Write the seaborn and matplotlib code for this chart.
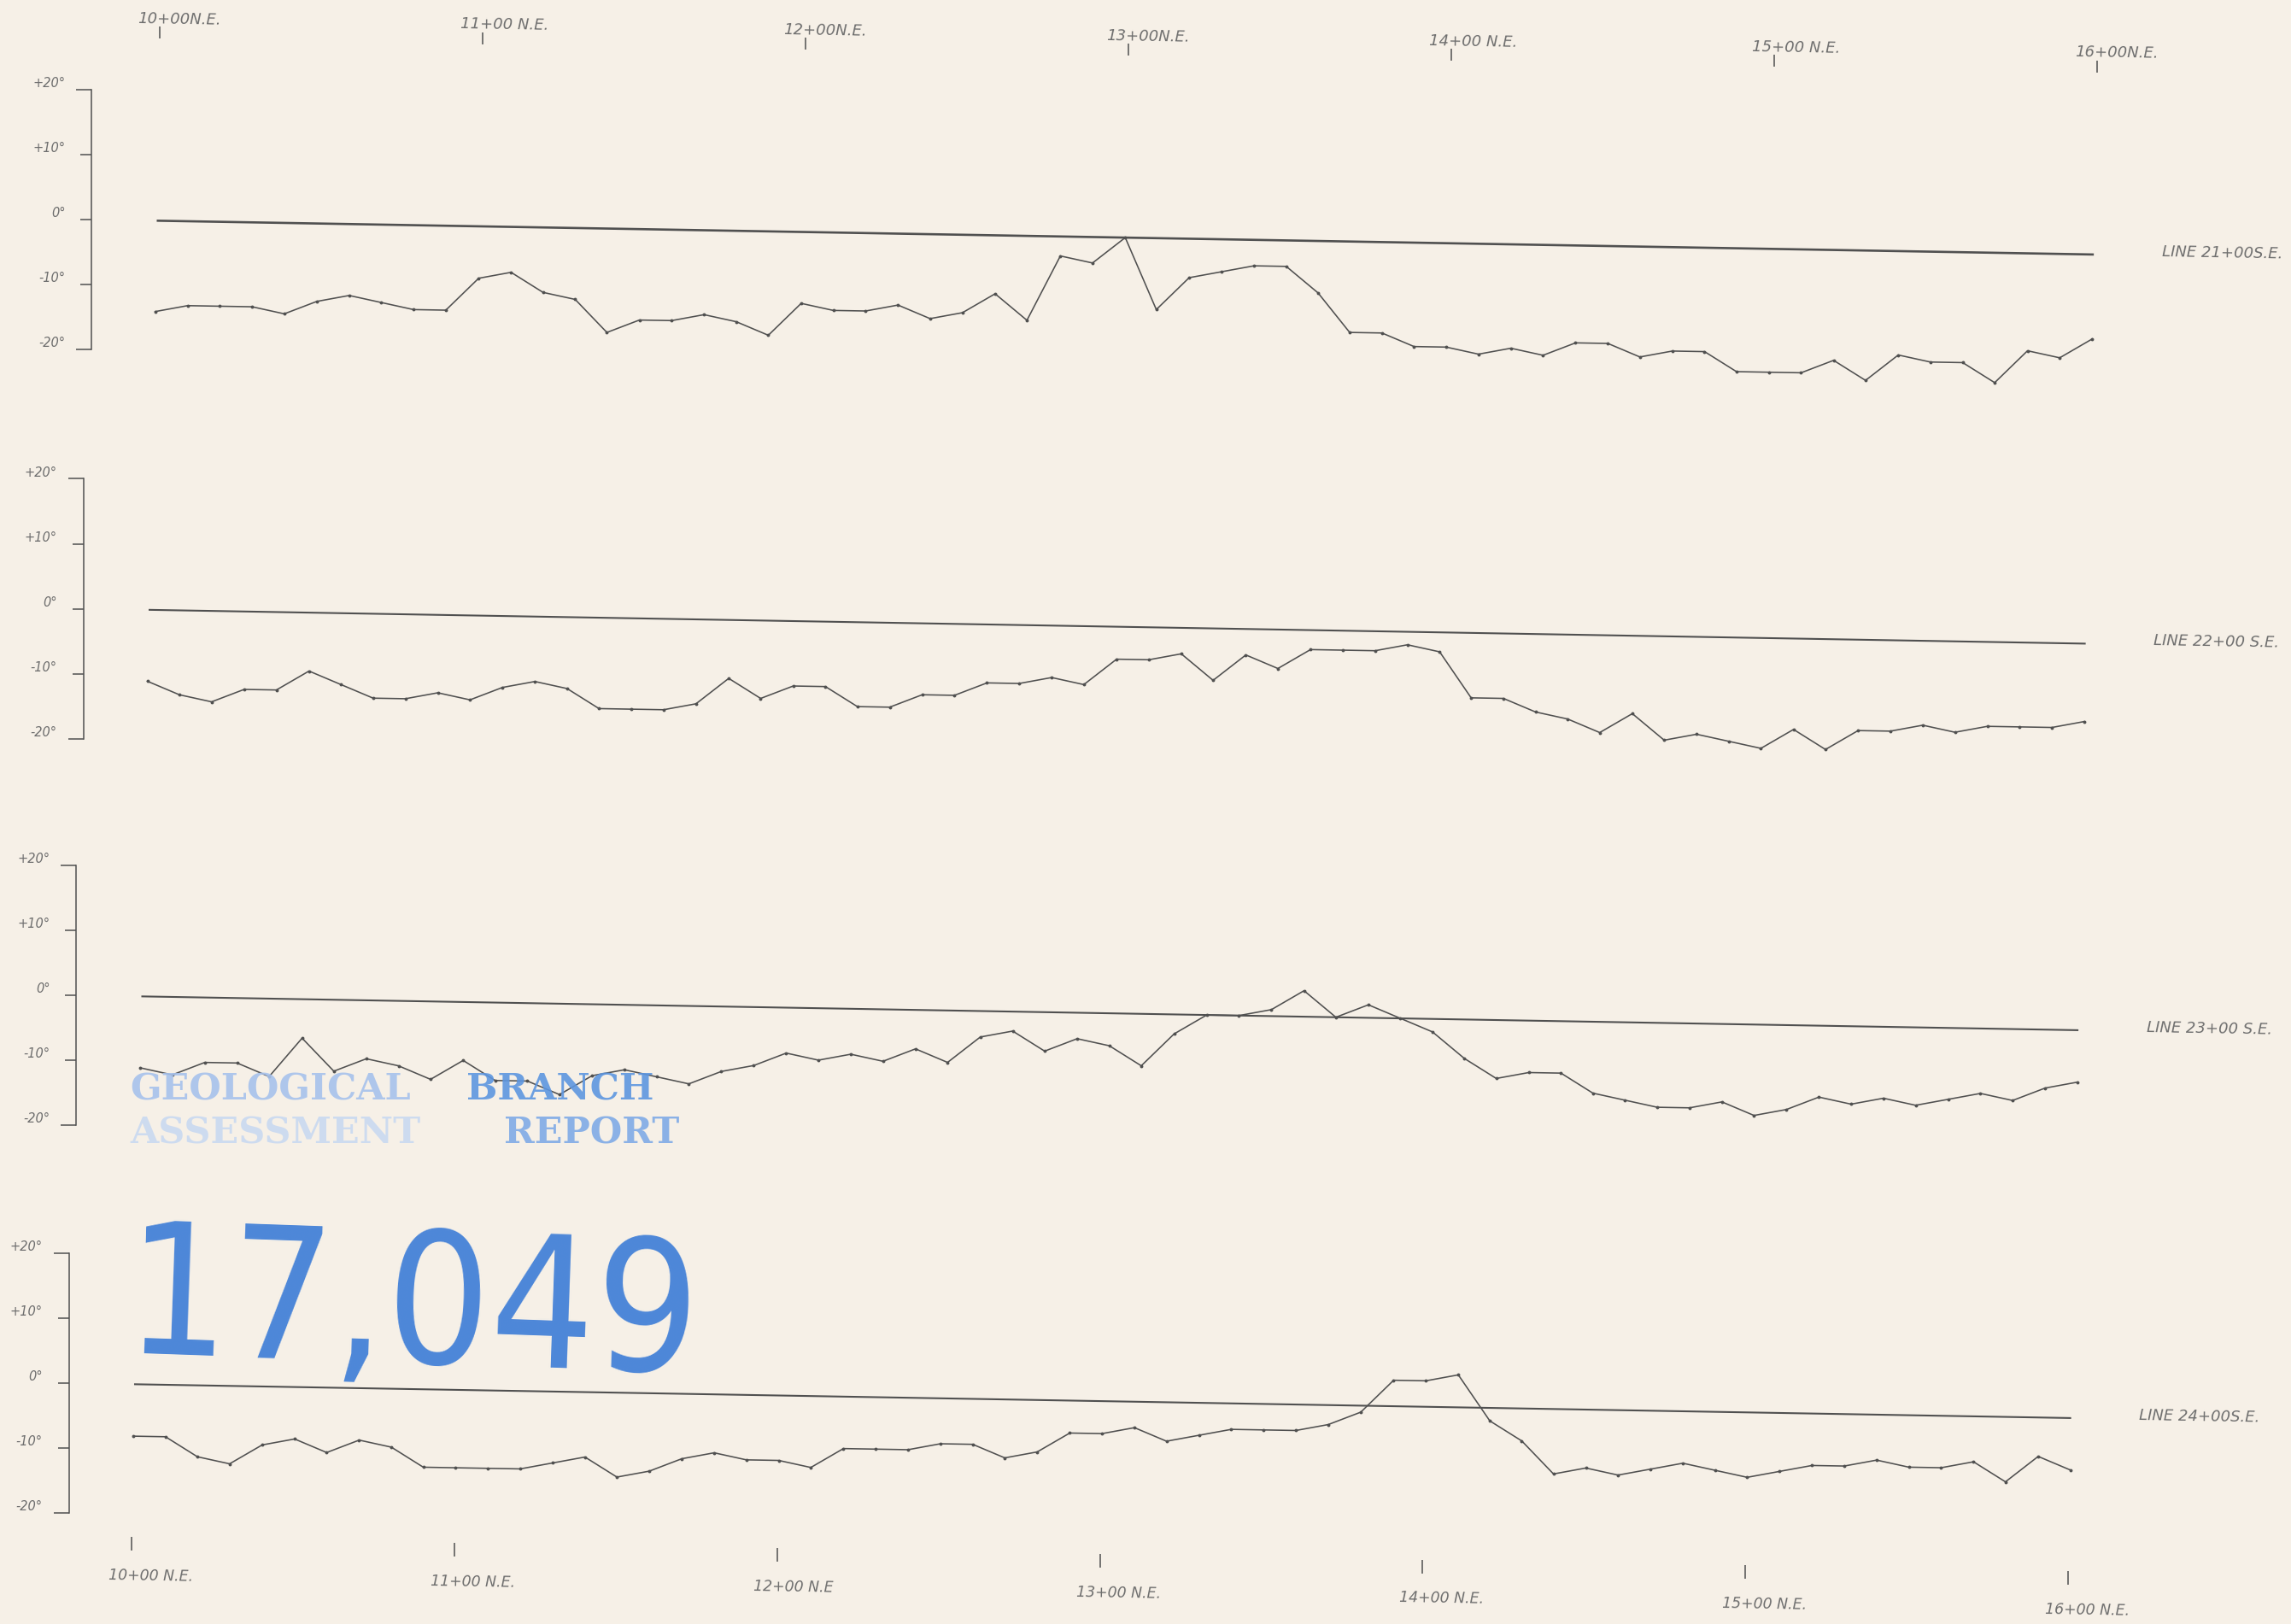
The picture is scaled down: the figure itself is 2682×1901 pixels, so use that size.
import matplotlib
matplotlib.use("Agg")
import matplotlib.pyplot as plt
import matplotlib.transforms as mtransforms
from matplotlib import font_manager
import pandas as pd
import seaborn as sns

# ---- survey data: dip angle (degrees) every 10 ft from 10+00 to 16+00 N.E. ----
stations = list(range(1000, 1601, 10))

dip_21 = [-14, -13, -13, -13, -14, -12, -11, -12, -13, -13,
          -8, -7, -10, -11, -16, -14, -14, -13, -14, -16,
          -11, -12, -12, -11, -13, -12, -9, -13, -3, -4,
          0, -11, -6, -5, -4, -4, -8, -14, -14, -16,
          -16, -17, -16, -17, -15, -15, -17, -16, -16, -19,
          -19, -19, -17, -20, -16, -17, -17, -20, -15, -16,
          -13]
dip_22 = [-11, -13, -14, -12, -12, -9, -11, -13, -13, -12,
          -13, -11, -10, -11, -14, -14, -14, -13, -9, -12,
          -10, -10, -13, -13, -11, -11, -9, -9, -8, -9,
          -5, -5, -4, -8, -4, -6, -3, -3, -3, -2,
          -3, -10, -10, -12, -13, -15, -12, -16, -15, -16,
          -17, -14, -17, -14, -14, -13, -14, -13, -13, -13,
          -12]
dip_23 = [-11, -12, -10, -10, -12, -6, -11, -9, -10, -12,
          -9, -12, -12, -14, -11, -10, -11, -12, -10, -9,
          -7, -8, -7, -8, -6, -8, -4, -3, -6, -4,
          -5, -8, -3, 0, 0, 1, 4, 0, 2, 0,
          -2, -6, -9, -8, -8, -11, -12, -13, -13, -12,
          -14, -13, -11, -12, -11, -12, -11, -10, -11, -9,
          -8]
dip_24 = [-8, -8, -11, -12, -9, -8, -10, -8, -9, -12,
          -12, -12, -12, -11, -10, -13, -12, -10, -9, -10,
          -10, -11, -8, -8, -8, -7, -7, -9, -8, -5,
          -5, -4, -6, -5, -4, -4, -4, -3, -1, 4,
          4, 5, -2, -5, -10, -9, -10, -9, -8, -9,
          -10, -9, -8, -8, -7, -8, -8, -7, -10, -6,
          -8]

profiles = [dip_21, dip_22, dip_23, dip_24]
line_names = ["LINE 21+00S.E.", "LINE 22+00 S.E.", "LINE 23+00 S.E.", "LINE 24+00S.E."]

chainage = [1000, 1100, 1200, 1300, 1400, 1500, 1600]
top_labels = ["10+00N.E.", "11+00 N.E.", "12+00N.E.", "13+00N.E.",
              "14+00 N.E.", "15+00 N.E.", "16+00N.E."]
bottom_labels = ["10+00 N.E.", "11+00 N.E.", "12+00 N.E", "13+00 N.E.",
                 "14+00 N.E.", "15+00 N.E.", "16+00 N.E."]

dip_major = [20, -20]
dip_major_labels = ["+20°", "-20°"]
dip_minor = [10, 0, -10]
dip_minor_labels = ["+10°", "0°", "-10°"]

# ---- sheet geometry (pixels) ----
FIG_W, FIG_H, DPI = 2682, 1901, 100
PX_PER_FT = 3.78
PX_PER_DEG = 7.6
LEAD_PX = 76.5          # gap between the degree scale and station 10+00
TILT = -1.0             # the drafted sheet sits slightly skewed
# (x of degree scale, y of its 0° tick measured from the top) per profile
anchors = [(107, 257), (97.5, 712.5), (89, 1165), (80.5, 1619)]

PAPER = "#f6f0e7"
INK = "#505050"
PENCIL = "#6e6e6e"

fig = plt.figure(figsize=(FIG_W / DPI, FIG_H / DPI), dpi=DPI, facecolor=PAPER)

hand = dict(family="DejaVu Sans", style="italic", color=PENCIL)

axes = []
for k, (dips, name, (sx, zy)) in enumerate(zip(profiles, line_names, anchors)):
    width_px = LEAD_PX + (stations[-1] - stations[0]) * PX_PER_FT
    height_px = 40 * PX_PER_DEG
    ax = fig.add_axes([sx / FIG_W, (FIG_H - zy - height_px / 2) / FIG_H,
                       width_px / FIG_W, height_px / FIG_H])
    ax.set_facecolor("none")
    tilt = ax.transData + mtransforms.Affine2D().rotate_deg_around(sx, FIG_H - zy, TILT)

    # 0° reference line
    ref = ax.plot([stations[0], stations[-1]], [0, 0], color=INK,
                  lw=1.9 if k == 0 else 1.5, solid_capstyle="butt")[0]
    ref.set_transform(tilt)
    ref.set_clip_on(False)

    # measured dip-angle profile
    df = pd.DataFrame({"station": stations, "dip": dips})
    sns.lineplot(data=df, x="station", y="dip", ax=ax, color=INK, linewidth=1.15,
                 marker="o", markersize=2.8, markeredgewidth=0, errorbar=None,
                 legend=False)
    prof = ax.lines[-1]
    prof.set_transform(tilt)
    prof.set_clip_on(False)

    ax.text(stations[-1] + 21, 0.6, name, transform=tilt, rotation=TILT,
            rotation_mode="anchor", ha="left", va="center", fontsize=13,
            clip_on=False, **hand)

    ax.set_xlim(stations[0] - LEAD_PX / PX_PER_FT, stations[-1])
    ax.set_ylim(-20, 20)
    ax.set_xlabel("")
    ax.set_ylabel("")
    ax.set_xticks([])
    for side in ("top", "right", "bottom"):
        ax.spines[side].set_visible(False)
    ax.spines["left"].set_color(INK)
    ax.spines["left"].set_linewidth(1.1)

    ax.set_yticks(dip_major)
    ax.set_yticklabels(dip_major_labels, va="bottom", fontsize=10.5, **hand)
    ax.set_yticks(dip_minor, minor=True)
    ax.set_yticklabels(dip_minor_labels, minor=True, va="bottom", fontsize=10.5, **hand)
    ax.tick_params(axis="y", which="major", length=13, width=1.1, pad=9, color=INK)
    ax.tick_params(axis="y", which="minor", length=9.4, width=1.1, pad=12.6, color=INK)

    axes.append((ax, tilt))

# station markers along the top of the sheet
ax, tilt = axes[0]
top = ax.plot(chainage, [29.0] * len(chainage), ls="none", marker="|",
              ms=10.5, mew=1.1, color=INK)[0]
top.set_transform(tilt)
top.set_clip_on(False)
for st, lab in zip(chainage, top_labels):
    ax.text(st - 7, 30.4, lab, transform=tilt, rotation=TILT, rotation_mode="anchor",
            ha="left", va="baseline", fontsize=13, clip_on=False, **hand)

# station markers along the bottom of the sheet
ax, tilt = axes[-1]
bot = ax.plot(chainage, [-24.6] * len(chainage), ls="none", marker="|",
              ms=12, mew=1.1, color=INK)[0]
bot.set_transform(tilt)
bot.set_clip_on(False)
for st, lab in zip(chainage, bottom_labels):
    ax.text(st - 7, -29.5, lab, transform=tilt, rotation=TILT, rotation_mode="anchor",
            ha="left", va="center", fontsize=12.5, clip_on=False, **hand)

# ---- assessment report stamp ----
def fx(px):
    return px / FIG_W


def fy(px):
    return 1 - px / FIG_H


serif = dict(family="DejaVu Serif", fontweight="bold", fontsize=31)
fig.text(fx(152), fy(1288), "GEOLOGICAL", color="#a7c2ec", alpha=0.9, **serif)
fig.text(fx(546), fy(1288), "BRANCH", color="#5d96e0", alpha=0.9, **serif)
fig.text(fx(152), fy(1338), "ASSESSMENT", color="#c9d9f1", alpha=0.9, **serif)
fig.text(fx(590), fy(1338), "REPORT", color="#80abe6", alpha=0.9, **serif)

# narrowest available sans face for the stamped report number
num_family, num_stretch, num_size = "DejaVu Sans", "normal", 138
fonts = font_manager.fontManager.ttflist
if any(f.name == "Liberation Sans Narrow" for f in fonts):
    num_family, num_size = "Liberation Sans Narrow", 194
elif any(f.name == "DejaVu Sans" and str(f.stretch) in ("condensed", "semi-condensed", "600", "700")
         for f in fonts):
    num_stretch, num_size = "condensed", 154
fig.text(fx(145), fy(1584), "17,049", family=num_family, fontstretch=num_stretch,
         fontsize=num_size, color="#2f74d6", alpha=0.85, ha="left", va="baseline",
         rotation=-2, rotation_mode="anchor")

fig.savefig("out.png", dpi=DPI, facecolor=PAPER)
